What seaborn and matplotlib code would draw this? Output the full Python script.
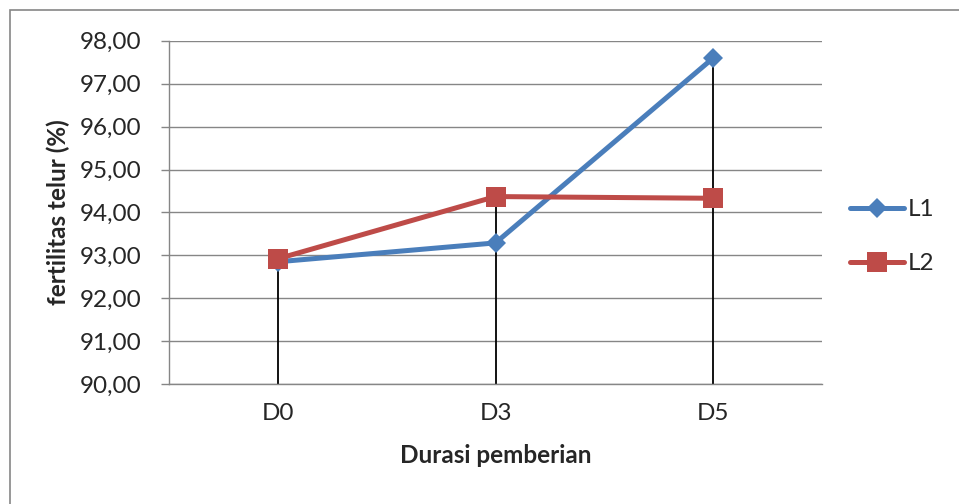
import pandas as pd
import seaborn as sns
import matplotlib.pyplot as plt
from matplotlib.patches import Rectangle

# data
categories = ['D0', 'D3', 'D5']
l1 = [92.85, 93.29, 97.60]
l2 = [92.92, 94.37, 94.33]
series_names = ['L1', 'L2']
yticks = [90, 91, 92, 93, 94, 95, 96, 97, 98]
ytick_labels = ['90,00', '91,00', '92,00', '93,00', '94,00', '95,00', '96,00', '97,00', '98,00']

df = pd.DataFrame({
    'durasi': categories * 2,
    'nilai': l1 + l2,
    'seri': [series_names[0]] * 3 + [series_names[1]] * 3,
})

sns.set_style('white')
plt.rcParams['font.family'] = ['Lato', 'DejaVu Sans']
fs = 17.5

fig = plt.figure(figsize=(9.59, 5.04), dpi=100)
ax = fig.add_axes([0.1762, 0.238, 0.681, 0.681])

# drop lines from the highest point down to the axis
tops = [max(a, b) for a, b in zip(l1, l2)]
ax.vlines(range(len(categories)), 90, tops, color='black', lw=1.3, zorder=1)

palette = {'L1': '#4A7EBB', 'L2': '#BE4B48'}
sns.lineplot(data=df, x='durasi', y='nilai', hue='seri', style='seri',
             markers={'L1': 'D', 'L2': 's'}, dashes=False, palette=palette,
             lw=3.6, markersize=14, markeredgewidth=0, ax=ax, zorder=3)
for ln in ax.lines:
    if ln.get_marker() == 'D':
        ln.set_markersize(10.5)

ax.set_xlim(-0.5, 2.5)
ax.set_ylim(90, 98)
ax.set_yticks(yticks)
ax.set_yticklabels(ytick_labels, fontsize=fs)
ax.tick_params(axis='x', labelsize=fs, length=0, pad=14)
ax.tick_params(axis='y', length=6, width=1, color='#868686', direction='out', pad=14, left=True)
ax.grid(axis='y', color='#868686', lw=1)
ax.set_axisbelow(True)
for s in ['top', 'right']:
    ax.spines[s].set_visible(False)
for s in ['left', 'bottom']:
    ax.spines[s].set_color('#868686')
    ax.spines[s].set_linewidth(1)

ax.set_xlabel('Durasi pemberian', fontsize=fs, fontweight='bold', labelpad=14)
ax.set_ylabel('fertilitas telur (%)', fontsize=fs, fontweight='bold')
ax.yaxis.set_label_coords(-0.152, 0.5)

handles, labels = ax.get_legend_handles_labels()
for h in handles:
    h.set_markersize(10.5 if h.get_marker() == 'D' else 14)
leg = ax.legend(handles, labels, loc='center left', bbox_to_anchor=(0.876, 0.53),
                bbox_transform=fig.transFigure, frameon=False, fontsize=fs,
                handlelength=2.25, handletextpad=0.15, labelspacing=1.35, borderaxespad=0)

# outer chart border
fig.patches.append(Rectangle((10 / 959, -0.05), 1.1, 1 - 10 / 504 + 0.05,
                             transform=fig.transFigure, fill=False,
                             edgecolor='#868686', lw=1.2))

fig.savefig('out.png', dpi=100)
